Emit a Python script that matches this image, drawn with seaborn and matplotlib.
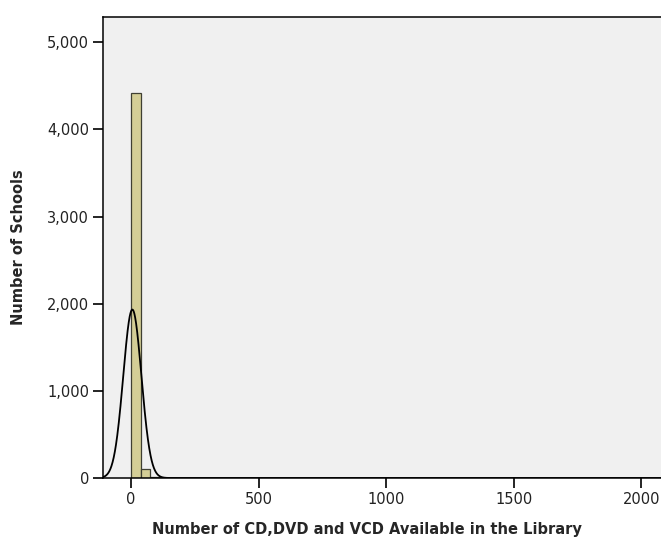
import numpy as np
import pandas as pd
import matplotlib
matplotlib.use("Agg")
import matplotlib.pyplot as plt
import seaborn as sns
from matplotlib.ticker import FuncFormatter

# Histogram data (bin width ~38)
bin_width = 38
bin_starts = [0, 38, 76, 114, 190, 228, 1064, 1558]
counts = [4418, 109, 6, 2, 1, 1, 1, 1]

# Fitted normal curve parameters
mean_val = 5.0
std_val = 35.6
n_total = sum(counts)

xticks = [0, 500, 1000, 1500, 2000]
yticks = [0, 1000, 2000, 3000, 4000, 5000]

sns.set_theme(style="white")
plt.rcParams['font.family'] = ['DejaVu Sans']

fig = plt.figure(figsize=(6.61, 5.42), dpi=100)
W, H = 661, 542
ax = fig.add_axes([103 / W, (H - 478) / H, (668 - 103) / W, (478 - 17) / H])
ax.set_facecolor("#F0F0F0")

df = pd.DataFrame({"x": [b + bin_width / 2 for b in bin_starts], "w": counts})
all_edges = [float(e) for e in np.arange(0, 1600 + bin_width, bin_width)]
sns.histplot(data=df, x="x", weights="w", bins=all_edges, ax=ax,
             color="#D4CE96", edgecolor="#3f3f32", linewidth=0.9, alpha=1.0)

xs = np.linspace(-110, 2100, 3000)
ys = n_total * bin_width / (std_val * np.sqrt(2 * np.pi)) * np.exp(-0.5 * ((xs - mean_val) / std_val) ** 2)
sns.lineplot(x=xs, y=ys, ax=ax, color="black", linewidth=1.3)

ax.set_xlim(-110, 2105)
ax.set_ylim(0, 5290)
ax.set_xticks(xticks)
ax.set_yticks(yticks)
ax.yaxis.set_major_formatter(FuncFormatter(lambda v, p: f"{int(v):,}"))
ax.tick_params(axis="both", which="major", direction="out", length=7, width=1.2,
               color="black", labelsize=10.5, labelcolor="#222222", pad=3,
               bottom=True, left=True)
for s in ["left", "bottom", "top", "right"]:
    ax.spines[s].set_color("black")
    ax.spines[s].set_linewidth(1.1)

ax.set_xlabel("Number of CD,DVD and VCD Available in the Library",
              fontsize=10.5, fontweight="bold")
ax.set_ylabel("Number of Schools", fontsize=10.5, fontweight="bold")
ax.xaxis.set_label_coords(0.467, -0.095)
ax.yaxis.set_label_coords(-0.137, 0.5)

fig.savefig("out.png", dpi=100)
